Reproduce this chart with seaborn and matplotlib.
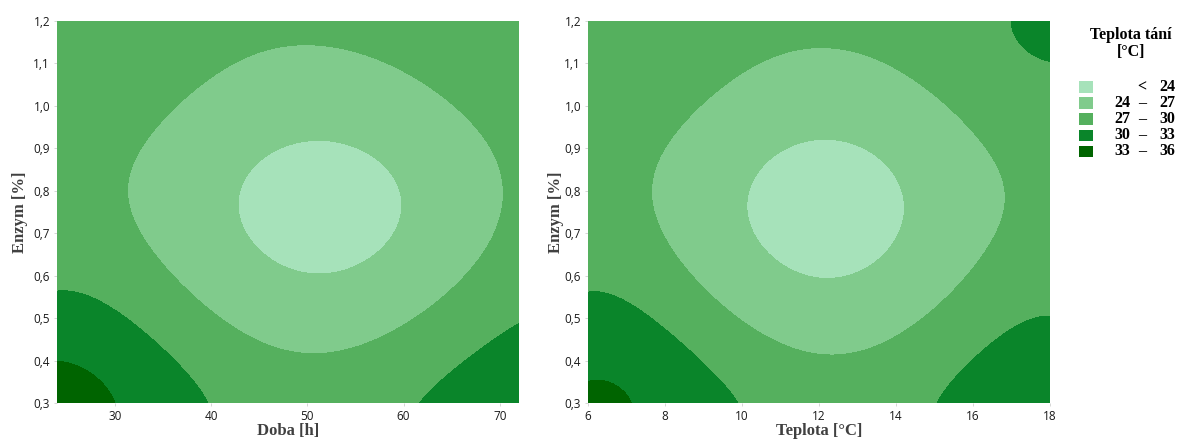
import numpy as np
import matplotlib
matplotlib.use("Agg")
import matplotlib.pyplot as plt
from matplotlib.ticker import FuncFormatter
from matplotlib.patches import Rectangle
import seaborn as sns

# Response-surface coefficients in coded units (u = time or temperature, v = enzyme).
# Row j holds the terms v**j * u**0 ... v**j * u**4.
COEF_DOBA = np.array([
    [23.185, -2.270,  7.778,  2.034, -3.195],
    [-0.396,  0.583, -2.198, -0.172,  0.803],
    [ 8.321,  1.189, -0.481, -1.380, -1.577],
    [-0.239,  0.009, -0.341,  0.412,  0.171],
    [-3.459,  0.384, -2.350, -0.695,  2.659],
])
COEF_TEPLOTA = np.array([
    [22.905, -0.561, 10.124,  0.340, -5.141],
    [-0.220,  0.391, -2.297,  0.088,  0.624],
    [ 8.847, -0.670, -2.056,  1.190, -0.801],
    [-0.383,  0.305, -0.230,  0.229,  0.967],
    [-3.690,  0.773, -2.374, -0.788,  3.395],
])

# Factor ranges (min, max)
DOBA_RANGE = (24, 72)
TEPLOTA_RANGE = (6, 18)
ENZYM_RANGE = (0.3, 1.2)

DOBA_TICKS = [30, 40, 50, 60, 70]
TEPLOTA_TICKS = [6, 8, 10, 12, 14, 16, 18]
ENZYM_TICKS = [0.3, 0.4, 0.5, 0.6, 0.7, 0.8, 0.9, 1.0, 1.1, 1.2]

LEVELS = [15, 24, 27, 30, 33, 36]
LEGEND_LOW = ["", "24", "27", "30", "33"]
LEGEND_HIGH = ["24", "27", "30", "33", "36"]
LEGEND_TITLE = "Teplota tání\n[°C]"

sns.set_theme(style="white")
plt.rcParams["font.family"] = ["Open Sans", "DejaVu Sans"]
palette = sns.color_palette(["#a6e2ba", "#80cb8c", "#55b05e", "#0a852a", "#006400"])

W, H = 1181, 442
fig = plt.figure(figsize=(W / 100, H / 100), dpi=100)

SERIF = {"family": "Liberation Serif", "weight": "bold"}
comma = FuncFormatter(lambda v, p: f"{v:.1f}".replace(".", ","))


def panel(x_px, coef, xr, xticks, xlabel, ylab_x):
    ax = fig.add_axes([x_px / W, (H - 403) / H, 462 / W, 382 / H])
    g = np.linspace(-1, 1, 400)
    U, V = np.meshgrid(g, g)
    F = np.polynomial.polynomial.polyval2d(U, V, coef.T)
    xc, xh = (xr[0] + xr[1]) / 2, (xr[1] - xr[0]) / 2
    yc, yh = (ENZYM_RANGE[0] + ENZYM_RANGE[1]) / 2, (ENZYM_RANGE[1] - ENZYM_RANGE[0]) / 2
    ax.contourf(xc + xh * U, yc + yh * V, F, levels=LEVELS, colors=palette)
    ax.set_xlim(*xr)
    ax.set_ylim(*ENZYM_RANGE)
    ax.set_xticks(xticks)
    ax.set_yticks(ENZYM_TICKS)
    ax.yaxis.set_major_formatter(comma)
    for s in ax.spines.values():
        s.set_visible(False)
    ax.tick_params(axis="both", which="major", length=2.5, width=0.6, color="#d0d0d0",
                   labelsize=8.5, labelcolor="#1a1a1a", pad=2.5, bottom=True, left=True)
    ax.set_xlabel(xlabel, fontdict=SERIF, fontsize=12, color="#404040")
    ax.set_ylabel("Enzym [%]", fontdict=SERIF, fontsize=12, color="#404040")
    ax.xaxis.set_label_coords(0.5, (403 - 423) / 382)
    ax.yaxis.set_label_coords((ylab_x - x_px) / 462, 0.5)
    return ax


panel(57, COEF_DOBA, DOBA_RANGE, DOBA_TICKS, "Doba [h]", 28)
panel(588, COEF_TEPLOTA, TEPLOTA_RANGE, TEPLOTA_TICKS, "Teplota [°C]", 564)

# Legend
fx = lambda px: px / W
fy = lambda py: (H - py) / H
fig.text(fx(1131), fy(27), LEGEND_TITLE, ha="center", va="top", multialignment="center",
         fontsize=11.5, linespacing=1.05, color="black", **SERIF)
for i, (lo, hi) in enumerate(zip(LEGEND_LOW, LEGEND_HIGH)):
    cy = 87 + 16 * i
    fig.patches.append(Rectangle((fx(1079), fy(cy + 5.5)), 14 / W, 11 / H,
                                 transform=fig.transFigure, facecolor=palette[i],
                                 edgecolor="none"))
    kw = dict(va="center", fontsize=11.5, color="black", **SERIF)
    if lo:
        fig.text(fx(1130), fy(cy), lo, ha="right", **kw)
        fig.text(fx(1142), fy(cy), "–", ha="center", **kw)
    else:
        fig.text(fx(1142), fy(cy), "<", ha="center", **kw)
    fig.text(fx(1175), fy(cy), hi, ha="right", **kw)

fig.savefig("out.png", dpi=100, facecolor="white")
